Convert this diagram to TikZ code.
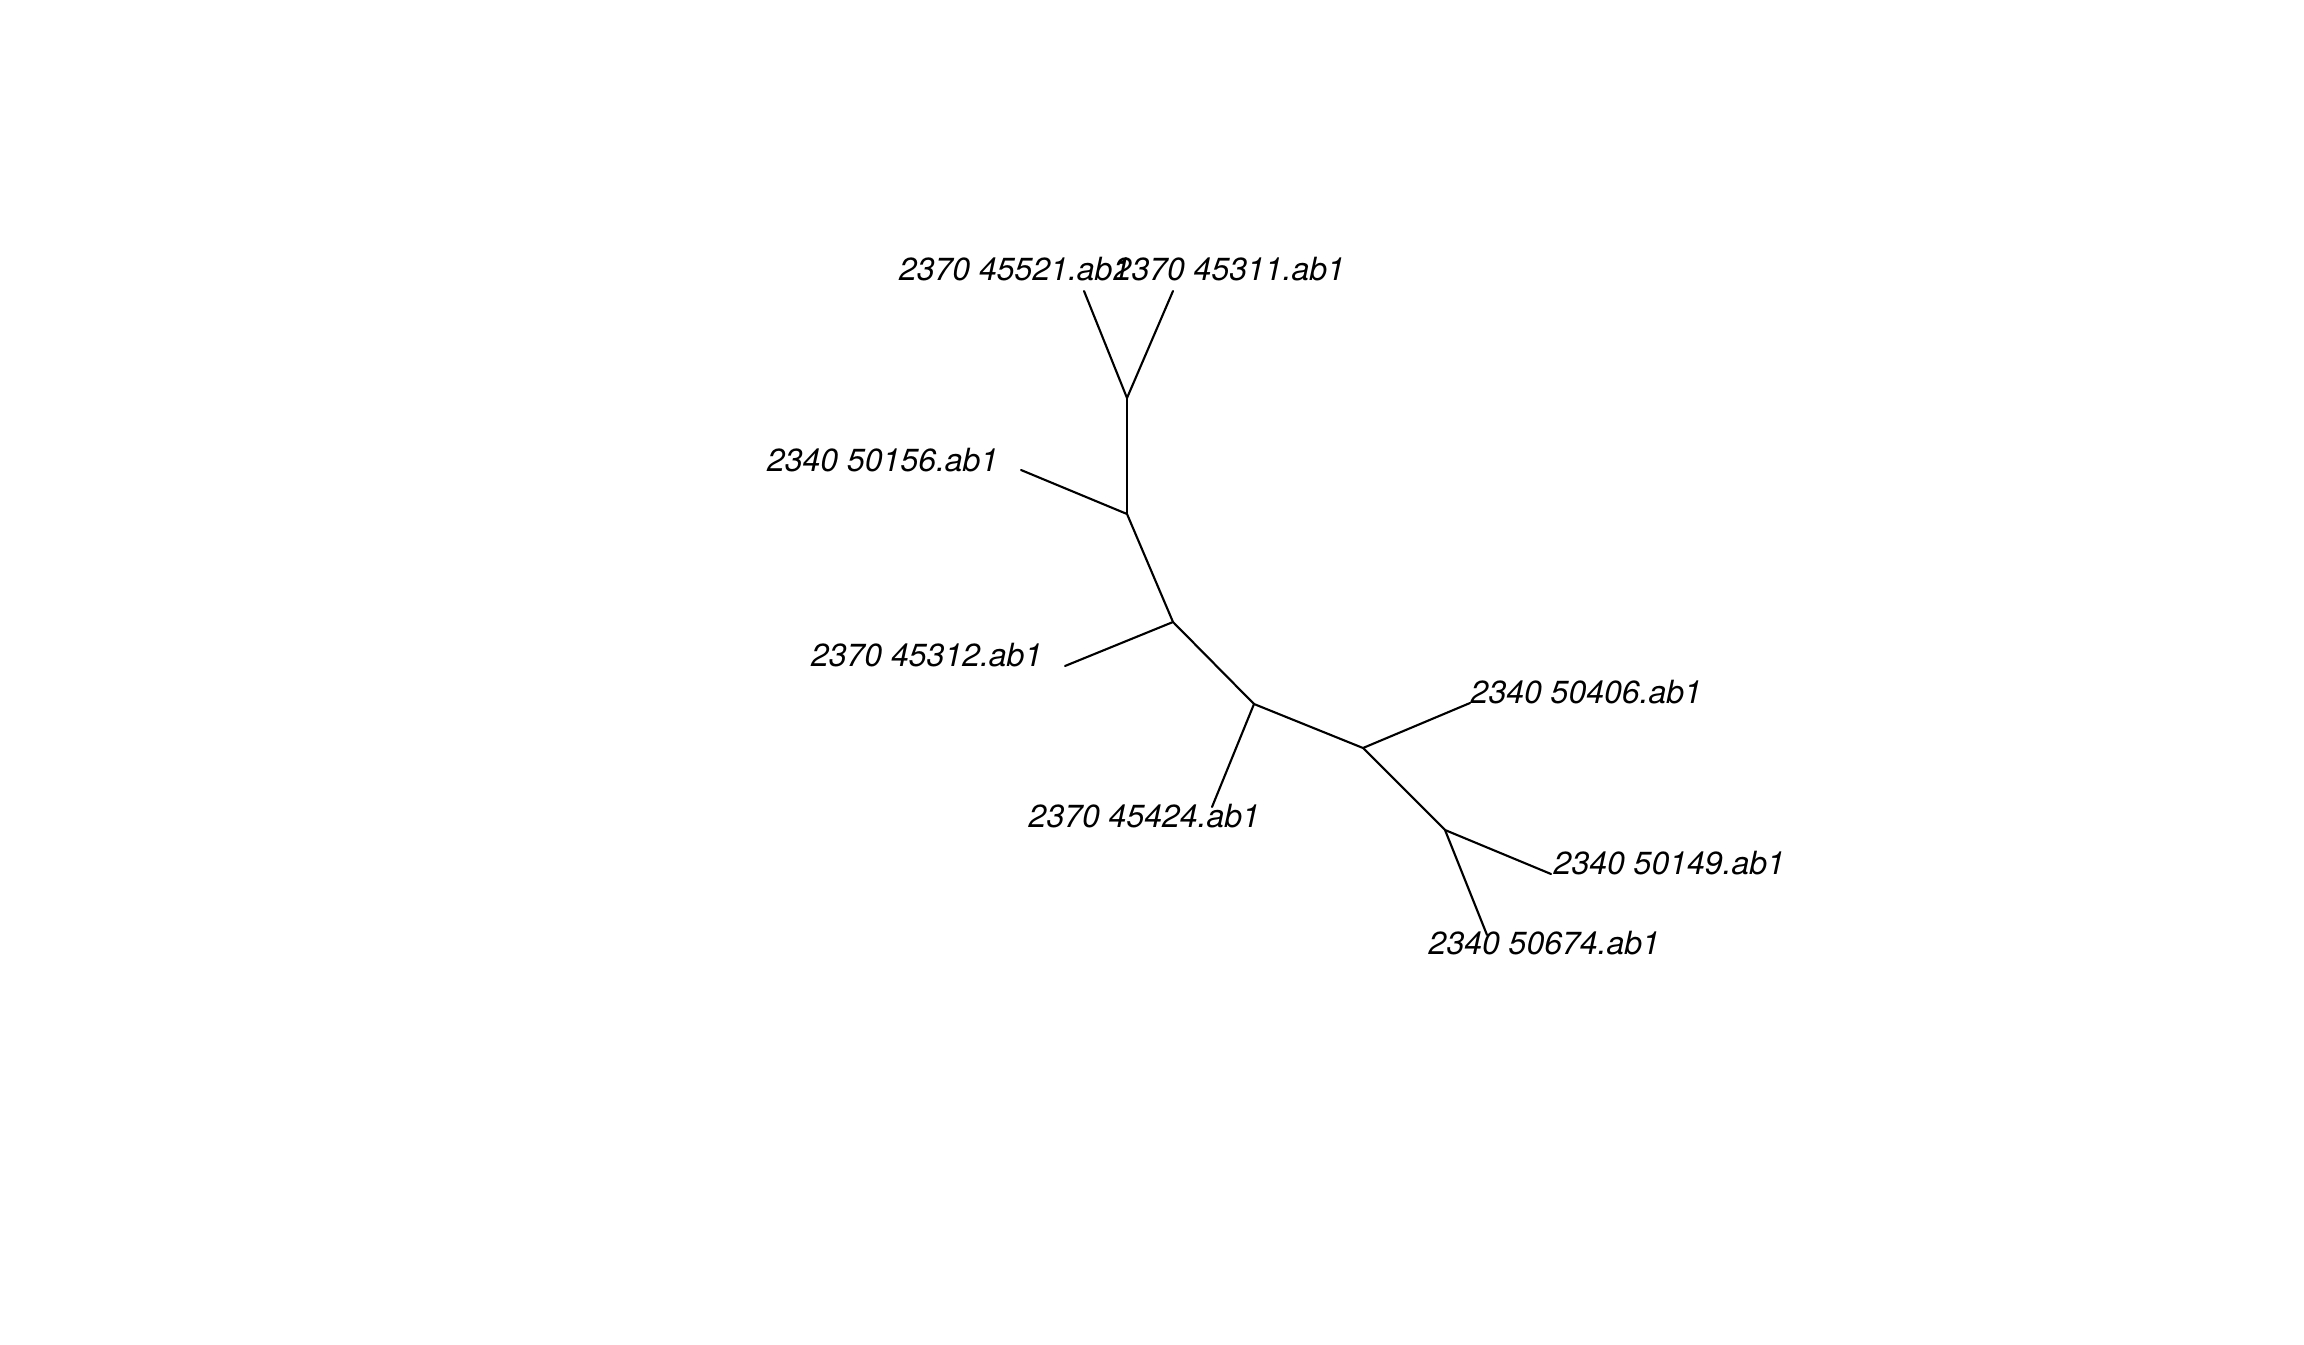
\documentclass[tikz,border=0pt]{standalone}
\usepackage{fontspec}
\setmainfont{TeX Gyre Heros}
\usepackage{tkz-euclide}
\tikzset{tiplabel/.style={inner sep=0pt,font=\fontsize{9.1pt}{11pt}\selectfont\itshape}}

\begin{document}
\begin{tikzpicture}
\useasboundingbox (0,0) rectangle (23.04,13.44);
\tkzSetUpLine[line width=0.6pt,color=black,line cap=round]

% inner nodes of the tree
\tkzDefPoints{11.27/9.46/A,11.27/8.30/B,11.73/7.22/C,12.54/6.40/D,13.63/5.96/E,14.45/5.14/F}
% tips
\tkzDefPoints{10.84/10.53/T1,11.73/10.53/T2,10.21/8.74/T3,10.65/6.78/T4}
\tkzDefPoints{12.12/5.37/T5,14.70/6.41/T6,15.51/4.70/T7,14.87/4.09/T8}

\tkzDrawSegments(A,T1 A,T2 A,B B,T3 B,C C,T4 C,D D,T5 D,E E,T6 E,F F,T7 F,T8)

\node[tiplabel,anchor=base east] (L1) at (11.31,10.64) {2370 45521.ab1};
\node[tiplabel,anchor=base west] (L2) at (11.13,10.64) {2370 45311.ab1};
\node[tiplabel,anchor=base east] (L3) at (9.99,8.73) {2340 50156.ab1};
\node[tiplabel,anchor=base east] (L4) at (10.43,6.78) {2370 45312.ab1};
\node[tiplabel,anchor=base west] (L5) at (10.28,5.17) {2370 45424.ab1};
\node[tiplabel,anchor=base west] (L6) at (14.70,6.41) {2340 50406.ab1};
\node[tiplabel,anchor=base west] (L7) at (15.53,4.70) {2340 50149.ab1};
\node[tiplabel,anchor=base west] (L8) at (14.28,3.90) {2340 50674.ab1};

\end{tikzpicture}
\end{document}
